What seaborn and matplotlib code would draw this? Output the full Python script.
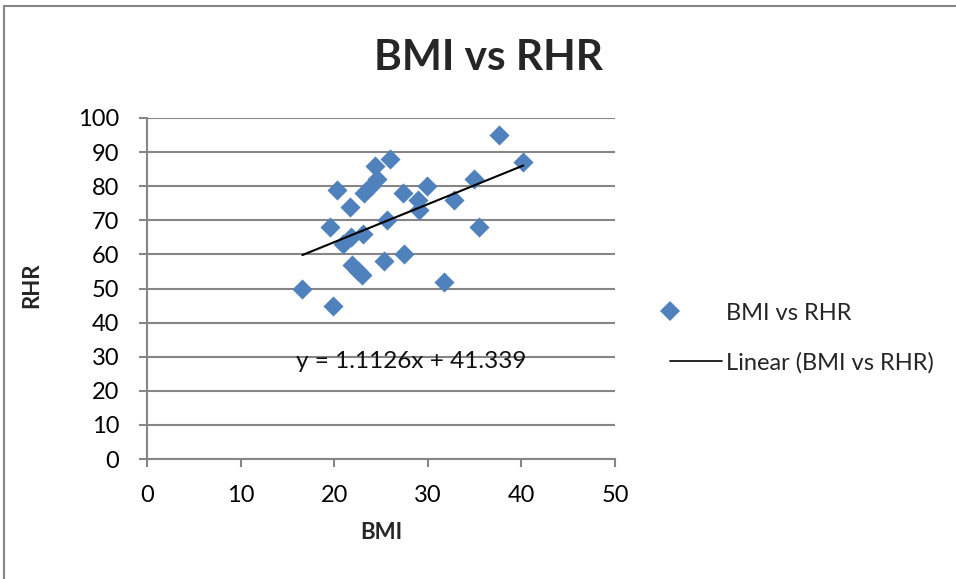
import matplotlib
matplotlib.use("Agg")
import matplotlib.pyplot as plt
import seaborn as sns
import numpy as np
import pandas as pd
from matplotlib.lines import Line2D
from matplotlib.patches import Rectangle
from matplotlib.legend_handler import HandlerBase

# ---- data ----
bmi = [16.6, 19.9, 19.5, 20.3, 20.9, 21.7, 21.8, 21.9, 22.5, 23.0, 23.1, 23.2,
       23.9, 24.4, 24.6, 26.0, 25.6, 25.3, 27.4, 27.5, 28.9, 29.1, 29.9, 31.7,
       32.8, 34.9, 35.5, 37.6, 40.2]
rhr = [50, 45, 68, 79, 63, 74, 65, 57, 55, 54, 66, 78,
       80, 86, 82, 88, 70, 58, 78, 60, 76, 73, 80, 52,
       76, 82, 68, 95, 87]
slope = 1.1126
intercept = 41.339
x_ticks = [0, 10, 20, 30, 40, 50]
y_ticks = [0, 10, 20, 30, 40, 50, 60, 70, 80, 90, 100]
title = "BMI vs RHR"
series_name = "BMI vs RHR"
trend_name = "Linear (BMI vs RHR)"
equation = "y = 1.1126x + 41.339"

df = pd.DataFrame({"BMI": bmi, "RHR": rhr})

sns.set_style("white")
plt.rcParams["font.family"] = ["Lato", "DejaVu Sans"]

fig = plt.figure(figsize=(9.56, 5.79), dpi=100)
ax = fig.add_axes([147 / 956, 1 - 459 / 579, (615 - 147) / 956, (459 - 118) / 579])

grey = "#868686"
blue = "#4F81BD"

ax.set_xlim(0, 50)
ax.set_ylim(0, 100)
ax.set_yticks(y_ticks)
ax.set_xticks(x_ticks)
ax.yaxis.grid(True, color=grey, linewidth=1.5)
ax.set_axisbelow(True)

sns.scatterplot(data=df, x="BMI", y="RHR", marker="D", s=105, color=blue,
                edgecolor=blue, linewidth=0, ax=ax, legend=False, zorder=3)

xs = np.array([min(bmi), max(bmi)])
ax.plot(xs, slope * xs + intercept, color="black", linewidth=1.5, zorder=4)

ax.text(28.2, 28.5, equation, ha="center", va="center", fontsize=17.5, color="#111111")

for s in ["top", "right"]:
    ax.spines[s].set_visible(False)
for s in ["left", "bottom"]:
    ax.spines[s].set_color(grey)
    ax.spines[s].set_linewidth(1.5)
ax.tick_params(axis="both", which="major", direction="out", length=6, width=1.5,
               color=grey, labelsize=17, labelcolor="black", left=True, bottom=True)
ax.tick_params(axis="y", pad=14)
ax.tick_params(axis="x", pad=13)

ax.set_xlabel("BMI", fontsize=16, fontweight="bold")
ax.set_ylabel("RHR", fontsize=16, fontweight="bold")
ax.xaxis.set_label_coords(0.5, -0.217)
ax.yaxis.set_label_coords(-0.246, 0.51)
ax.xaxis.label.set_va("center")
ax.yaxis.label.set_va("center")
fig.text(488 / 956, 1 - 58 / 579, title, ha="center", va="center",
         fontsize=30.5, fontweight="bold")


class LeftMarkerHandler(HandlerBase):
    def create_artists(self, legend, orig_handle, xdescent, ydescent, width,
                       height, fontsize, trans):
        y = (height - ydescent) / 2.0
        m = Line2D([-xdescent], [y], marker=orig_handle.get_marker(), linestyle="none",
                   color=orig_handle.get_color(), markersize=orig_handle.get_markersize(),
                   markeredgewidth=0)
        m.set_transform(trans)
        return [m]


marker_handle = Line2D([], [], marker="D", linestyle="none", color=blue,
                       markersize=10, markeredgewidth=0)
line_handle = Line2D([], [], color="black", linewidth=1.2)
fig.legend([marker_handle, line_handle], [series_name, trend_name], loc="center left",
           bbox_to_anchor=(649 / 956, 1 - 338 / 579), frameon=False,
           fontsize=17, handlelength=2.2, handletextpad=0.15, labelspacing=1.2,
           handler_map={marker_handle: LeftMarkerHandler()})

fig.patches.append(Rectangle((4 / 956, -0.1), 1.2, 1 - 6 / 579 + 0.1,
                             transform=fig.transFigure, fill=False,
                             edgecolor=grey, linewidth=1.5))

fig.savefig("out.png", dpi=100)
